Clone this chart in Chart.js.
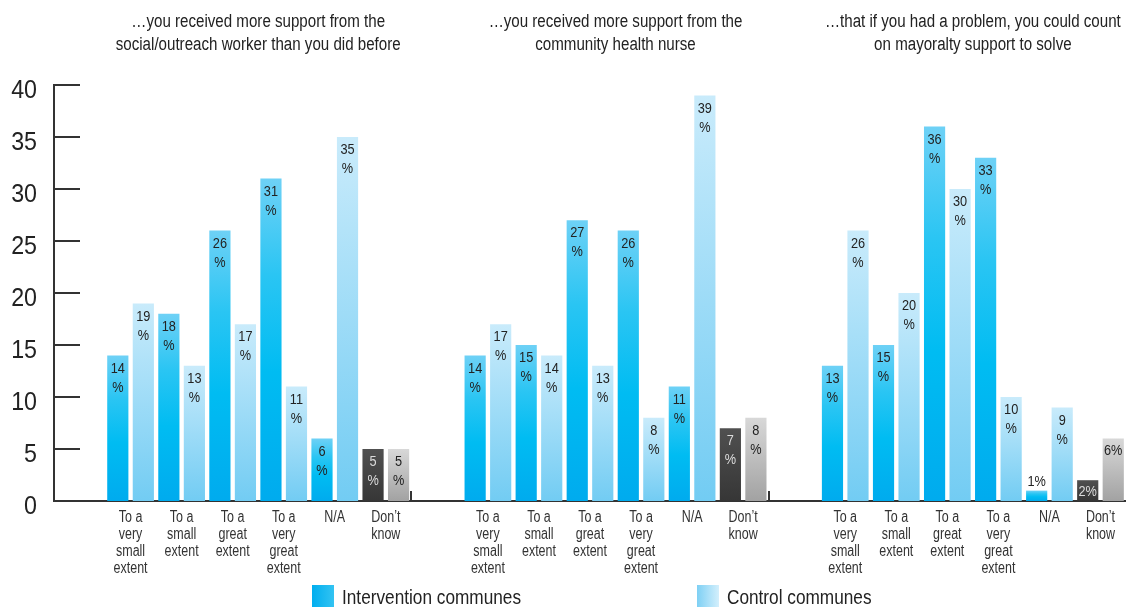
<!DOCTYPE html>
<html><head><meta charset="utf-8">
<script src="https://cdn.jsdelivr.net/npm/chart.js@4.4.1/dist/chart.umd.min.js"></script>
<style>html,body{margin:0;padding:0;background:#fff;overflow:hidden}#wrap{width:1126px;height:607px;position:relative}</style>
</head><body><div id="wrap"><canvas id="c"></canvas></div>
<script>
const categories = [["To a","very","small","extent"],["To a","small","extent"],["To a","great","extent"],["To a","very","great","extent"],["N/A"],["Don’t","know"]];
const groupTitles = [
  ["…you received more support from the","social/outreach worker than you did before"],
  ["…you received more support from the","community health nurse"],
  ["…that if you had a problem, you could count","on mayoralty support to solve"]
];
const interventionSocial = [14,18,26,31,6,5];
const controlSocial      = [19,13,17,11,35,5];
const interventionNurse  = [14,15,27,26,11,7];
const controlNurse       = [17,14,13,8,39,8];
const interventionMayor  = [13,15,36,33,1,2];
const controlMayor       = [26,20,30,10,9,6];
const yTicks = [0,5,10,15,20,25,30,35,40];
const seriesNames = ["Intervention communes","Control communes"];
// labels drawn on one line ("6%") instead of two ("6" / "%")
const singleLineIntervention = [19,20];
const singleLineControl = [20];

const FONT = '"Liberation Sans",Arial,sans-serif';
const labels = [""].concat(categories, [""], categories, [""], categories);
const interventionData = [null].concat(interventionSocial, [null], interventionNurse, [null], interventionMayor);
const controlData = [null].concat(controlSocial, [null], controlNurse, [null], controlMayor);
const dontKnowIdx = [6,13,20];

function barFill(ctx){
  const chart = ctx.chart;
  if(!chart.chartArea || ctx.raw == null) return '#00b4ef';
  const ys = chart.scales.y;
  const top = ys.getPixelForValue(ctx.raw), base = ys.getPixelForValue(0);
  const g = chart.ctx.createLinearGradient(0, top, 0, base);
  const dk = dontKnowIdx.includes(ctx.dataIndex);
  if(ctx.datasetIndex === 0){
    if(dk){ g.addColorStop(0,'#505050'); g.addColorStop(1,'#363636'); }
    else { g.addColorStop(0,'#6ed1f6'); g.addColorStop(0.3,'#2ac5f3'); g.addColorStop(0.6,'#00bcf2'); g.addColorStop(1,'#00abee'); }
  } else {
    if(dk){ g.addColorStop(0,'#d8d8d8'); g.addColorStop(1,'#a2a2a2'); }
    else { g.addColorStop(0,'#c9ebfb'); g.addColorStop(1,'#72ccf3'); }
  }
  return g;
}

function txt(c, s, x, y, size, align, color, sx){
  c.save();
  c.font = size + 'px ' + FONT;
  c.fillStyle = color; c.textAlign = align; c.textBaseline = 'middle';
  c.translate(x, y); c.scale(sx, 1);
  c.fillText(s, 0, 0);
  c.restore();
}

const decor = {
  id:'decor',
  afterDatasetsDraw(chart){
    const c = chart.ctx, ys = chart.scales.y, xs = chart.scales.x, a = chart.chartArea;
    c.save();
    // inner tick marks on y axis
    c.strokeStyle = '#333'; c.lineWidth = 2;
    yTicks.forEach(v=>{ if(v===0) return; const y = Math.round(ys.getPixelForValue(v)); c.beginPath(); c.moveTo(a.left, y); c.lineTo(a.left+26, y); c.stroke(); });
    // group separators
    [[6,7],[13,14]].forEach(([i,j])=>{ const x = Math.round((xs.getPixelForValue(i)+xs.getPixelForValue(j))/2); c.beginPath(); c.moveTo(x, a.bottom); c.lineTo(x, a.bottom-10); c.stroke(); });
    // y tick labels
    yTicks.forEach(v=>{ txt(c, String(v), a.left-17, ys.getPixelForValue(v)+6, 25, 'right', '#222', 0.93); });
    // x category labels
    labels.forEach((lab, i)=>{
      if(!lab) return;
      const x = xs.getPixelForValue(i);
      lab.forEach((line, k)=> txt(c, line, x, 518 + k*17, 16, 'center', '#333', 0.78));
    });
    // value labels
    chart.data.datasets.forEach((ds, di)=>{
      const meta = chart.getDatasetMeta(di);
      meta.data.forEach((el, i)=>{
        const v = ds.data[i]; if(v == null) return;
        const dk = dontKnowIdx.includes(i);
        const single = (di===0 ? singleLineIntervention : singleLineControl).includes(i);
        let col = (di===0 && dk) ? '#dcdcdc' : '#222';
        if(single){
          const h = el.base - el.y;
          if(h < 14) txt(c, v+'%', el.x, el.y - 9, 15, 'center', '#222', 0.85);
          else txt(c, v+'%', el.x, el.y + 12, 15, 'center', col, 0.85);
        } else {
          txt(c, String(v), el.x, el.y + 13, 15, 'center', col, 0.85);
          txt(c, '%', el.x, el.y + 32, 15, 'center', col, 0.85);
        }
      });
    });
    // titles
    [[1,6],[8,13],[15,20]].forEach(([s,e],gi)=>{
      const cx = (xs.getPixelForValue(s)+xs.getPixelForValue(e))/2;
      txt(c, groupTitles[gi][0], cx, 22, 18, 'center', '#222', 0.84);
      txt(c, groupTitles[gi][1], cx, 45, 18, 'center', '#222', 0.84);
    });
    // legend
    const lg = [[312, 342, ['#00aeef','#33c3f2']],[697, 727, ['#7ed0f4','#d3effc']]];
    lg.forEach(([sx, tx, cols], k)=>{
      const g = c.createLinearGradient(sx, 0, sx+22, 0); g.addColorStop(0, cols[0]); g.addColorStop(1, cols[1]);
      c.fillStyle = g; c.fillRect(sx, 585, 22, 22);
      txt(c, seriesNames[k], tx, 598, 21, 'left', '#222', 0.82);
    });
    c.restore();
  }
};

new Chart(document.getElementById('c'), {
  type:'bar',
  data:{ labels, datasets:[
    {label:seriesNames[0], data:interventionData, backgroundColor:barFill, borderWidth:0, barPercentage:0.83, categoryPercentage:1},
    {label:seriesNames[1], data:controlData, backgroundColor:barFill, borderWidth:0, barPercentage:0.83, categoryPercentage:1}
  ]},
  options:{
    responsive:true, maintainAspectRatio:false, animation:false,
    layout:{padding:{top:85,left:0,right:0,bottom:0}},
    plugins:{legend:{display:false}, tooltip:{enabled:false}},
    scales:{
      x:{
        grid:{display:false, drawTicks:false},
        border:{display:true, color:'#333', width:2},
        ticks:{display:false},
        afterFit(s){ s.height = 106; }
      },
      y:{
        min:0, max:40,
        grid:{display:false, drawTicks:false},
        border:{display:true, color:'#333', width:2},
        ticks:{display:false, stepSize:5},
        afterFit(s){ s.width = 54; }
      }
    }
  },
  plugins:[decor]
});
</script></body></html>
